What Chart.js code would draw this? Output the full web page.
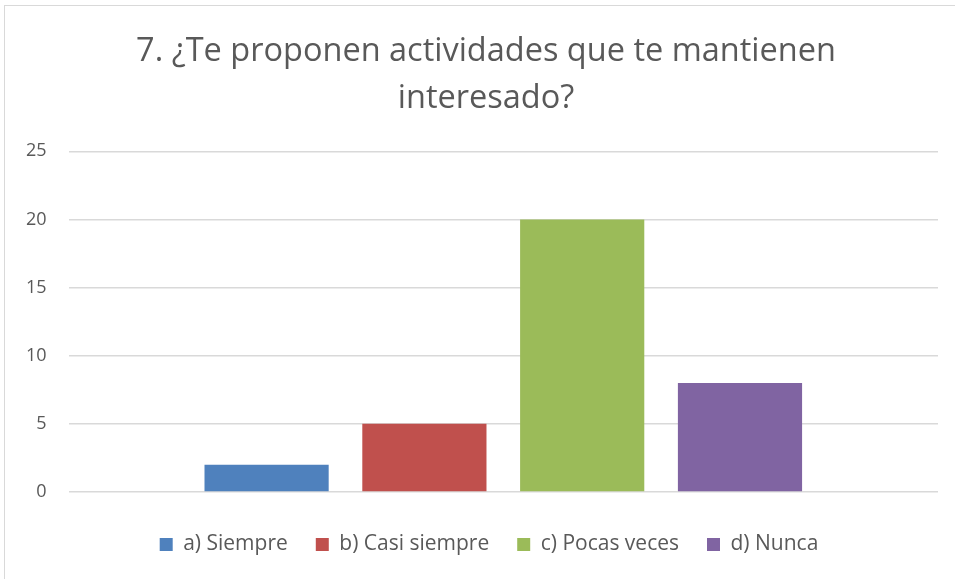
<!DOCTYPE html>
<html>
<head>
<meta charset="utf-8">
<script src="https://cdn.jsdelivr.net/npm/chart.js@4"></script>
<style>
  html, body { margin: 0; padding: 0; background: #ffffff; }
  #wrap { position: absolute; left: 4px; top: 5px; width: 960px; height: 580px; border: 1px solid #d9d9d9; box-sizing: border-box; }
  #box { position: absolute; left: 0; top: 0; width: 955px; height: 579px; }
</style>
</head>
<body>
<div id="wrap"></div>
<div id="box"><canvas id="myChart" width="955" height="579"></canvas></div>
<script>
// Données du graphique
const titre = ['7. ¿Te proponen actividades que te mantienen', 'interesado?'];
const categories = [''];
const reponses = ['a) Siempre', 'b) Casi siempre', 'c) Pocas veces', 'd) Nunca'];
const valeurs = [2, 5, 20, 8];
const couleurs = ['#4f81bd', '#c0504d', '#9bbb59', '#8064a2'];
const ticksY = [0, 5, 10, 15, 20, 25];

const police = "'Open Sans', 'Liberation Sans', sans-serif";
const gris = '#595959';

// un dataset par réponse (une seule catégorie)
const datasets = reponses.map((rep, i) => ({
    label: rep,
    data: [valeurs[i]],
    backgroundColor: couleurs[i],
    borderWidth: 0,
    barPercentage: 0.787,
    categoryPercentage: 0.726
}));

// petit décalage du titre et de la légende vers la droite (centrés comme dans l'original)
const decalage = {
    id: 'decalage',
    afterLayout(chart) {
        chart.titleBlock.left += 15;
        chart.titleBlock.right += 15;
        chart.legend.left += 18;
        chart.legend.right += 18;
    }
};

const ctx = document.getElementById('myChart');
new Chart(ctx, {
    type: 'bar',
    data: { labels: categories, datasets: datasets },
    plugins: [decalage],
    options: {
        responsive: false,
        animation: false,
        devicePixelRatio: 1,
        layout: { padding: { left: 4, right: 17, top: 12, bottom: 14 } },
        plugins: {
            title: {
                display: true,
                text: titre,
                color: gris,
                font: { family: police, size: 32.5, weight: 'normal', lineHeight: 1.45 },
                padding: { top: 16, bottom: 29 }
            },
            legend: {
                position: 'bottom',
                labels: {
                    color: gris,
                    font: { family: police, size: 21 },
                    boxWidth: 13,
                    boxHeight: 13,
                    padding: 28
                }
            },
            tooltip: { enabled: false }
        },
        scales: {
            x: {
                grid: { display: false },
                border: { display: false },
                ticks: { display: false },
                afterFit: (axis) => { axis.height = 14; }
            },
            y: {
                min: 0,
                max: 25,
                afterBuildTicks: (axis) => { axis.ticks = ticksY.map(v => ({ value: v })); },
                grid: { color: '#d9d9d9', lineWidth: 1.5, drawTicks: false },
                border: { display: false },
                ticks: { color: gris, font: { family: police, size: 18 }, padding: 22 }
            }
        }
    }
});
</script>
</body>
</html>
